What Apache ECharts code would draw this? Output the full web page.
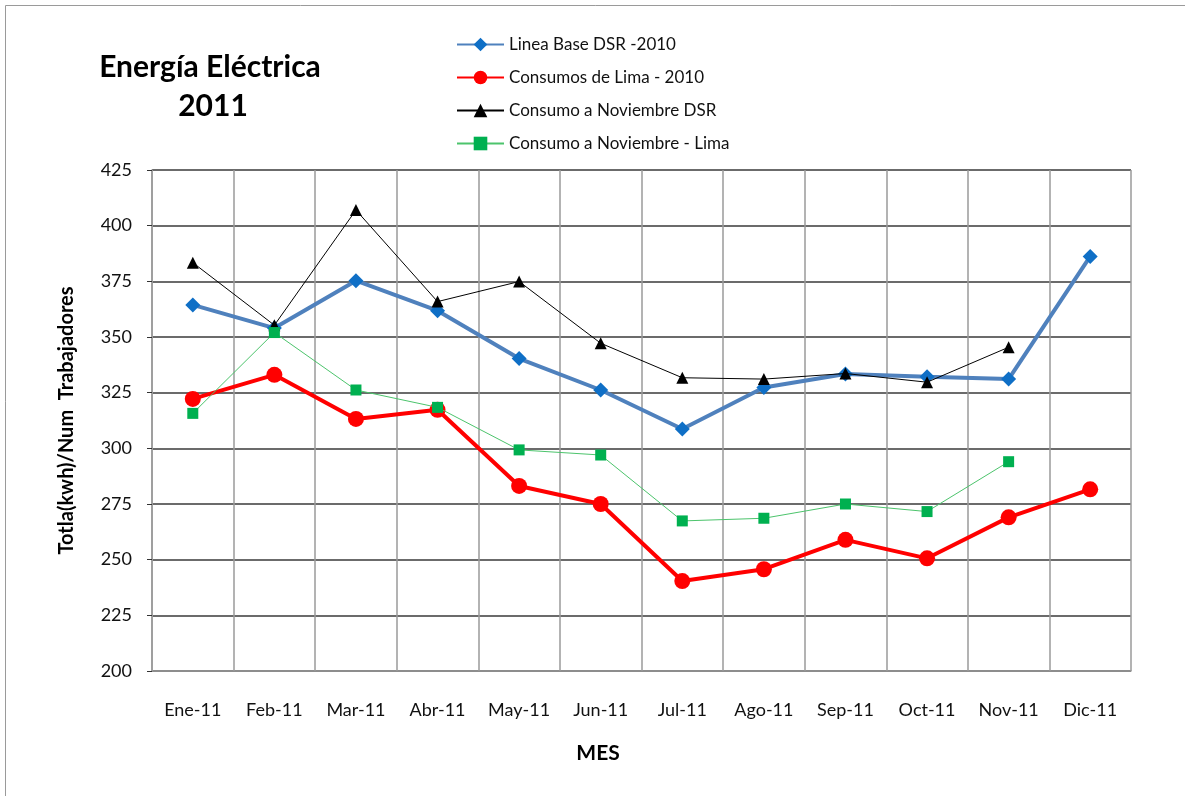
<!DOCTYPE html>
<html>
<head>
<meta charset="utf-8">
<script src="https://cdn.jsdelivr.net/npm/echarts@6/dist/echarts.min.js"></script>
<style>
html,body{margin:0;padding:0;background:#fff;}
#chart{width:1185px;height:796px;}
</style>
</head>
<body>
<div id="chart"></div>
<script>
const categories = ['Ene-11','Feb-11','Mar-11','Abr-11','May-11','Jun-11','Jul-11','Ago-11','Sep-11','Oct-11','Nov-11','Dic-11'];
const lineaBase = [364.4, 354.0, 375.3, 361.8, 340.3, 326.2, 308.7, 327.3, 333.4, 332.1, 331.1, 386.2];
const consumosLima = [322.2, 333.0, 313.2, 317.3, 283.1, 275.0, 240.4, 245.7, 258.9, 250.6, 269.0, 281.6];
const consumoNovDSR = [383.4, 355.3, 407.0, 365.9, 374.9, 347.2, 331.7, 331.1, 333.6, 329.7, 345.4, null];
const consumoNovLima = [315.7, 352.0, 326.2, 318.4, 299.3, 297.0, 267.4, 268.6, 275.0, 271.6, 294.0, null];
const seriesNames = ['Linea Base DSR -2010', 'Consumos de Lima - 2010', 'Consumo a Noviembre DSR', 'Consumo a Noviembre - Lima'];
const yTicks = {min: 200, max: 425, interval: 25};

const FONT = 'Lato, "Open Sans", sans-serif';
const chart = echarts.init(document.getElementById('chart'));
chart.setOption({
  animation: false,
  backgroundColor: '#fff',
  graphic: [
    {type: 'rect', shape: {x: 5.5, y: 5.5, width: 1300, height: 1000}, style: {fill: 'none', stroke: '#9a9a9a', lineWidth: 1}, silent: true},
    {type: 'text', x: 210, y: 67, style: {text: 'Energía Eléctrica', font: 'bold 30px ' + FONT, fill: '#000', align: 'center', verticalAlign: 'middle'}},
    {type: 'text', x: 213, y: 106, style: {text: '2011', font: 'bold 30px ' + FONT, fill: '#000', align: 'center', verticalAlign: 'middle'}},
    {type: 'text', x: 598, y: 753, style: {text: 'MES', font: 'bold 21px ' + FONT, fill: '#000', align: 'center', verticalAlign: 'middle'}}
  ],
  legend: {
    orient: 'vertical',
    left: 451,
    top: 31,
    itemGap: 16,
    itemWidth: 47,
    itemHeight: 17,
    textStyle: {fontFamily: FONT, fontSize: 17, color: '#111'},
    data: seriesNames
  },
  grid: {left: 152, right: 54, top: 170, bottom: 125, containLabel: false},
  xAxis: {
    type: 'category',
    data: categories,
    boundaryGap: true,
    axisLine: {show: true, lineStyle: {color: '#999', width: 1.5}},
    axisTick: {show: false},
    axisLabel: {fontFamily: FONT, fontSize: 18, color: '#111', margin: 30},
    splitLine: {show: true, lineStyle: {color: '#9a9a9a', width: 1.5}}
  },
  yAxis: {
    type: 'value',
    min: yTicks.min,
    max: yTicks.max,
    interval: yTicks.interval,
    name: 'Totla(kwh)/Num  Trabajadores',
    nameLocation: 'middle',
    nameGap: 75,
    nameRotate: 90,
    nameTextStyle: {fontFamily: FONT, fontSize: 20, fontWeight: 'bold', color: '#000'},
    axisLine: {show: true, lineStyle: {color: '#999', width: 1.5}},
    axisTick: {show: true, length: 5, lineStyle: {color: '#333'}},
    axisLabel: {fontFamily: FONT, fontSize: 18, color: '#111', margin: 20},
    splitLine: {show: true, lineStyle: {color: '#3a3a3a', width: 1.5}}
  },
  series: [
    {
      name: seriesNames[0], type: 'line', data: lineaBase,
      symbol: 'diamond', symbolSize: 15,
      itemStyle: {color: '#0f6fc6'},
      lineStyle: {color: '#4f81bd', width: 4},
      z: 3
    },
    {
      name: seriesNames[1], type: 'line', data: consumosLima,
      symbol: 'circle', symbolSize: 16,
      itemStyle: {color: '#ff0000'},
      lineStyle: {color: '#ff0000', width: 4},
      z: 2
    },
    {
      name: seriesNames[2], type: 'line', data: consumoNovDSR,
      symbol: 'triangle', symbolSize: 12,
      itemStyle: {color: '#000'},
      lineStyle: {color: '#000', width: 1},
      z: 4
    },
    {
      name: seriesNames[3], type: 'line', data: consumoNovLima,
      symbol: 'rect', symbolSize: 11,
      itemStyle: {color: '#00b050'},
      lineStyle: {color: '#4cc46c', width: 1},
      z: 4
    }
  ]
});
</script>
</body>
</html>
